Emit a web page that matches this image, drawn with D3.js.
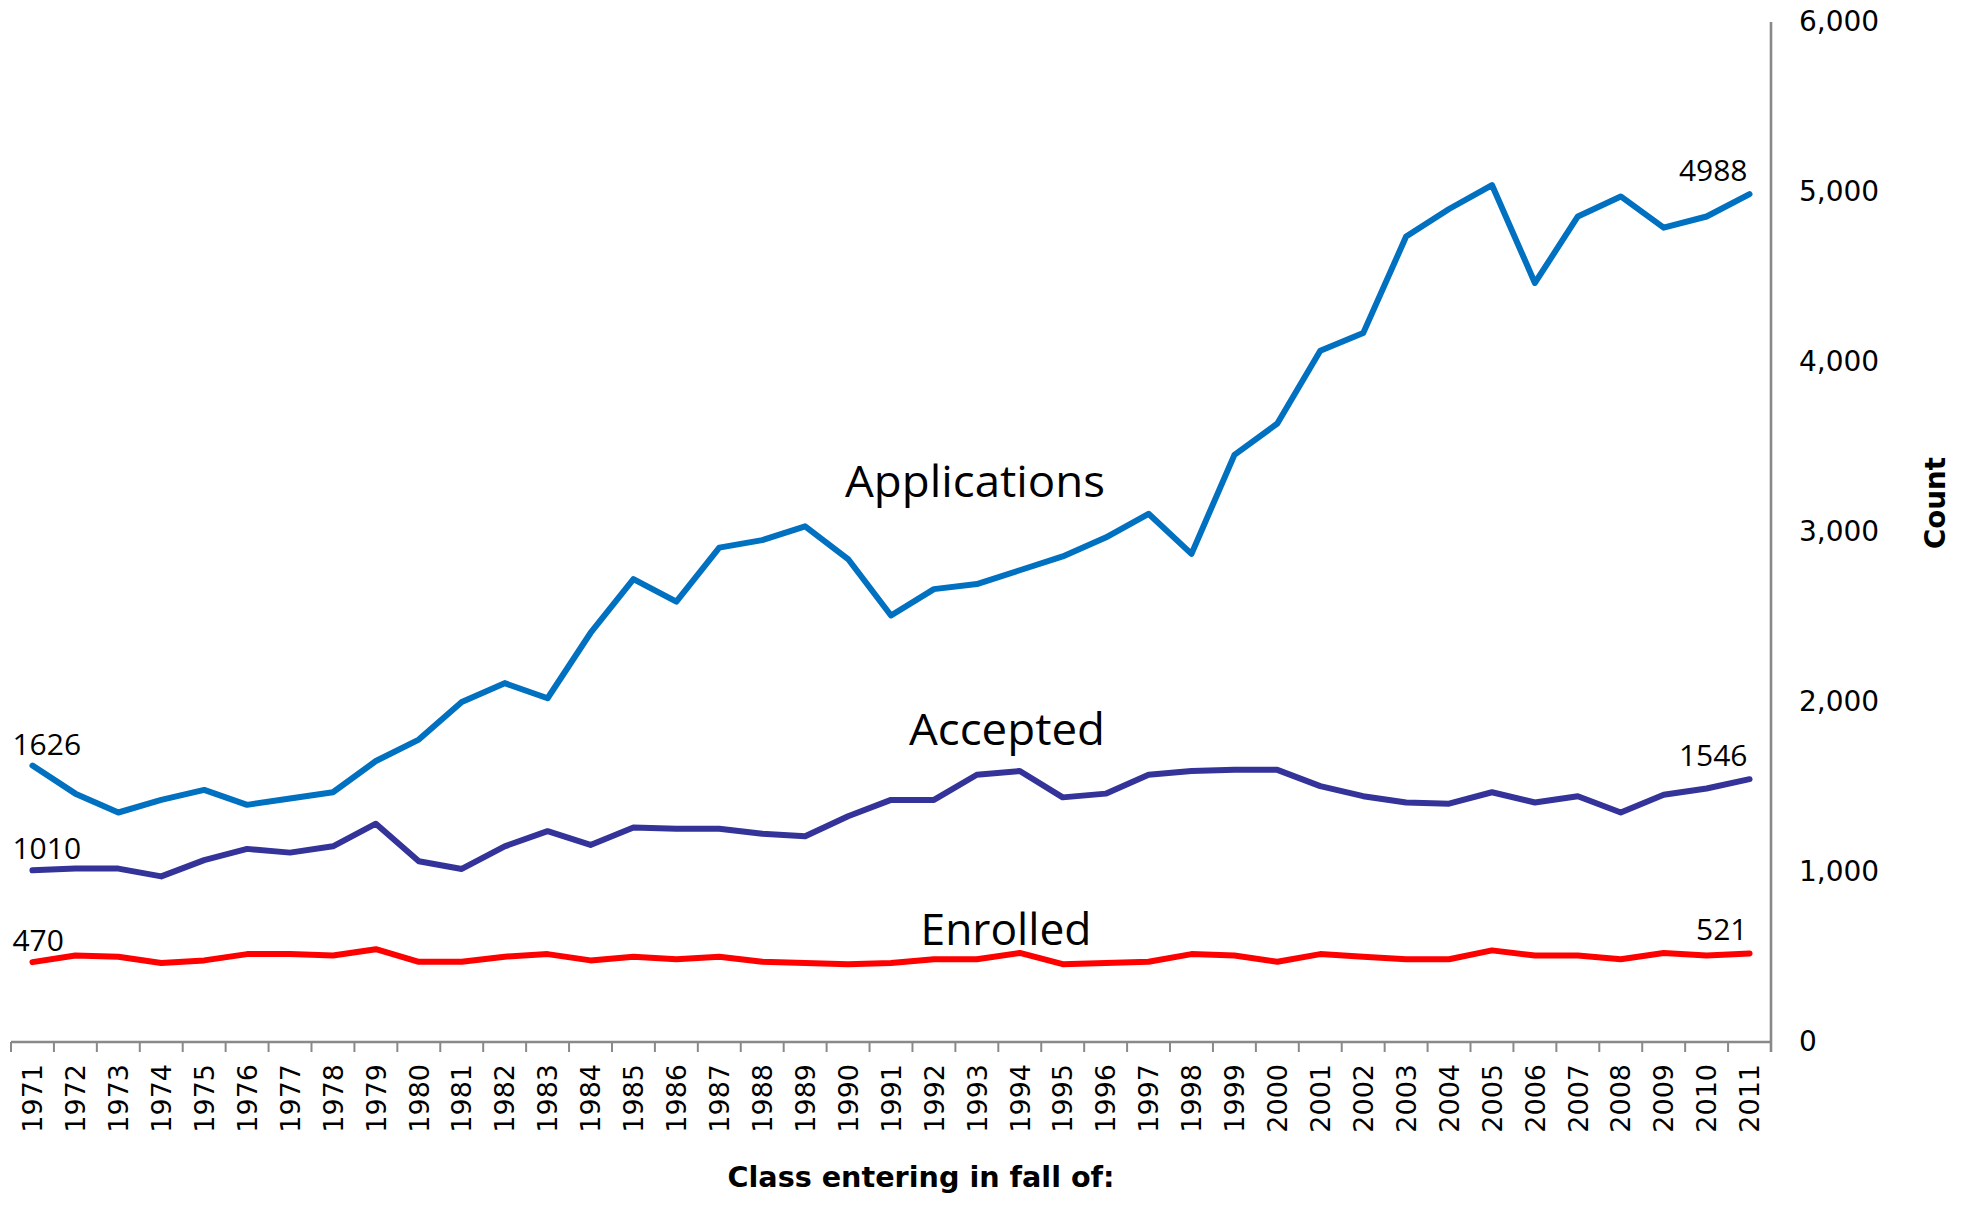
<!DOCTYPE html>
<html>
<head>
<meta charset="utf-8">
<script src="https://cdn.jsdelivr.net/npm/d3@7"></script>
<style>
  html, body { margin: 0; padding: 0; background: #fff; }
  svg { display: block; }
</style>
</head>
<body>
<svg id="chart" width="1965" height="1206"></svg>
<script>
const years = d3.range(1971, 2012).map(String);

const applications = [1626, 1461, 1350, 1424, 1483, 1395, 1432, 1469, 1653, 1779,
  2000, 2111, 2022, 2406, 2723, 2590, 2908, 2952, 3033, 2841,
  2509, 2664, 2694, 2775, 2856, 2967, 3107, 2871, 3454, 3638,
  4066, 4170, 4738, 4900, 5041, 4465, 4856, 4974, 4790, 4856, 4988];

const accepted = [1010, 1020, 1020, 974, 1070, 1136, 1114, 1151, 1284, 1063,
  1018, 1151, 1240, 1159, 1262, 1255, 1255, 1225, 1210, 1328,
  1424, 1424, 1572, 1594, 1439, 1461, 1572, 1594, 1601, 1601,
  1505, 1446, 1409, 1402, 1469, 1409, 1446, 1350, 1454, 1491, 1546];

const enrolled = [470, 509, 502, 465, 480, 517, 517, 509, 546, 472,
  472, 502, 517, 480, 502, 487, 502, 472, 465, 458,
  465, 487, 487, 524, 458, 465, 472, 517, 509, 472,
  517, 502, 487, 487, 539, 509, 509, 487, 524, 509, 521];

const yTicks = [0, 1000, 2000, 3000, 4000, 5000, 6000];

const seriesNames = ["Applications", "Accepted", "Enrolled"];
const seriesColors = ["#0070C0", "#333399", "#FF0000"];
const seriesData = [applications, accepted, enrolled];

const svg = d3.select("#chart");
const mLeft = 11, mRight = 1771, mTop = 22, mBottom = 1042;

const x = d3.scaleBand().domain(years).range([mLeft, mRight]).padding(0);
const y = d3.scaleLinear().domain([0, 6000]).range([mBottom, mTop]);
const cx = d => x(d) + x.bandwidth() / 2;

const axisColor = "#898989";

// X axis line + ticks at category boundaries
const xAxis = d3.axisBottom(x).tickSize(0).tickFormat("");
const gx = svg.append("g").attr("transform", `translate(0,${mBottom})`).call(xAxis);
gx.select(".domain").attr("stroke", axisColor).attr("stroke-width", 2.6).attr("d", `M${mLeft},0H${mRight}`);
const boundaries = years.map(d => x(d)).concat([mRight]);
gx.selectAll("line.bt").data(boundaries).enter().append("line")
  .attr("class", "bt")
  .attr("x1", d => d).attr("x2", d => d)
  .attr("y1", 0).attr("y2", 10)
  .attr("stroke", axisColor).attr("stroke-width", 2);

// year labels
svg.append("g").selectAll("text").data(years).enter().append("text")
  .attr("transform", d => `translate(${cx(d)},1064) rotate(-90)`)
  .attr("text-anchor", "end")
  .attr("dy", "0.36em")
  .attr("font-family", "DejaVu Sans, Verdana, sans-serif")
  .attr("font-size", 27)
  .attr("fill", "#000")
  .text(d => d);

// Y axis on right
const yAxis = d3.axisRight(y).tickValues(yTicks).tickSize(0).tickPadding(28)
  .tickFormat(d3.format(","));
const gy = svg.append("g").attr("transform", `translate(${mRight},0)`).call(yAxis);
gy.select(".domain").attr("stroke", axisColor).attr("stroke-width", 2.6).attr("d", `M0,${mTop}V${mBottom + 10}`);
gy.selectAll("text")
  .attr("font-family", "DejaVu Sans, Verdana, sans-serif")
  .attr("font-size", 28)
  .attr("fill", "#000");

// Lines
const line = d3.line().x((d, i) => cx(years[i])).y(d => y(d));
seriesData.forEach((data, k) => {
  svg.append("path").datum(data)
    .attr("d", line)
    .attr("fill", "none")
    .attr("stroke", seriesColors[k])
    .attr("stroke-width", 6)
    .attr("stroke-linejoin", "round")
    .attr("stroke-linecap", "round");
});

// Data labels at ends
const labelFont = "Open Sans, Noto Sans, sans-serif";
seriesData.forEach((data, k) => {
  const first = data[0], last = data[data.length - 1];
  svg.append("text")
    .attr("x", cx(years[0]) - 20)
    .attr("y", y(first) - 11)
    .attr("font-family", labelFont).attr("font-size", 30).attr("fill", "#000")
    .text(first);
  svg.append("text")
    .attr("x", cx(years[years.length - 1]) - 2)
    .attr("y", y(last) - 13)
    .attr("text-anchor", "end")
    .attr("font-family", labelFont).attr("font-size", 30).attr("fill", "#000")
    .text(last);
});

// Series name labels
const nameLabels = [
  {name: seriesNames[0], x: 975, yv: 3206, len: 260},
  {name: seriesNames[1], x: 1007, yv: 1747, len: 196},
  {name: seriesNames[2], x: 1006, yv: 570, len: 171}
];
svg.append("g").selectAll("text").data(nameLabels).enter().append("text")
  .attr("x", d => d.x)
  .attr("y", d => y(d.yv))
  .attr("text-anchor", "middle")
  .attr("font-family", labelFont)
  .attr("font-size", 44)
  .attr("fill", "#000")
  .attr("textLength", d => d.len)
  .attr("lengthAdjust", "spacingAndGlyphs")
  .text(d => d.name);

// Axis titles
svg.append("text")
  .attr("x", 921).attr("y", 1187)
  .attr("text-anchor", "middle")
  .attr("font-family", "DejaVu Sans, Verdana, sans-serif")
  .attr("font-weight", "bold")
  .attr("font-size", 29)
  .attr("textLength", 387).attr("lengthAdjust", "spacingAndGlyphs")
  .text("Class entering in fall of:");

svg.append("text")
  .attr("transform", "translate(1945,503) rotate(-90)")
  .attr("text-anchor", "middle")
  .attr("font-family", "DejaVu Sans, Verdana, sans-serif")
  .attr("font-weight", "bold")
  .attr("font-size", 29)
  .attr("textLength", 92).attr("lengthAdjust", "spacingAndGlyphs")
  .text("Count");
</script>
</body>
</html>
